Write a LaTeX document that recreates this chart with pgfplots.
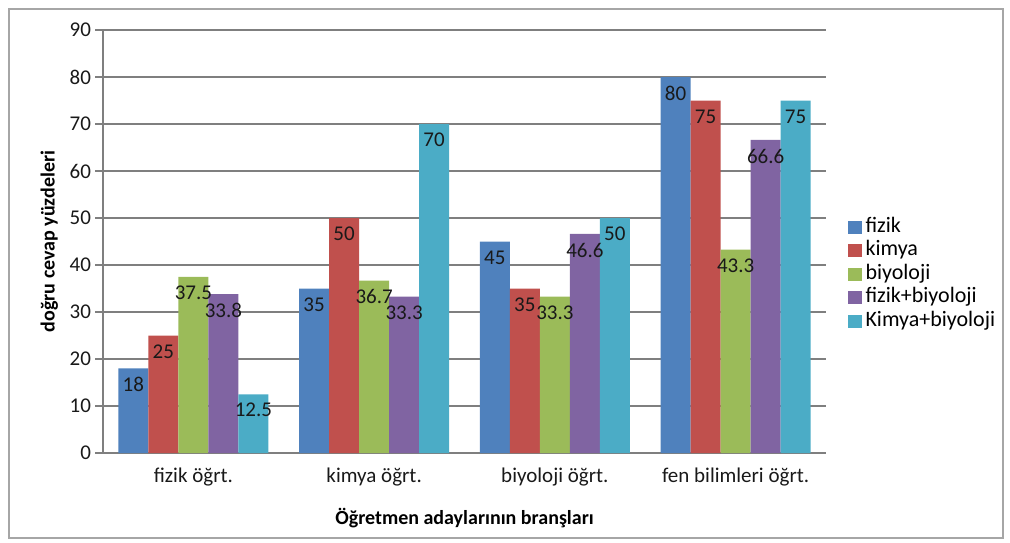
\documentclass[border=0pt]{standalone}
\usepackage{pgfplots}
\pgfplotsset{compat=1.18}
\usepackage{fontspec}
\setmainfont{Carlito}
\definecolor{cB}{HTML}{4F81BD}
\definecolor{cR}{HTML}{C0504D}
\definecolor{cG}{HTML}{9BBB59}
\definecolor{cP}{HTML}{8064A2}
\definecolor{cC}{HTML}{4BACC6}
\definecolor{gridc}{HTML}{7F7F7F}
\begin{document}
\begin{tikzpicture}
\useasboundingbox (0,0) rectangle (505pt,271pt);
\draw[gray!70, line width=1pt] (4.5pt,2pt) rectangle (501.5pt,266.5pt);
\begin{axis}[
  at={(51.5pt,44.5pt)}, anchor=south west,
  scale only axis, width=361.5pt, height=211.5pt,
  xmin=-0.5, xmax=3.5, ymin=0, ymax=90,
  ybar=0pt, bar width=15pt,
  axis x line=bottom, axis y line=left,
  axis line style={gridc, line width=1pt, -},
  xtick={0,1,2,3},
  xticklabels={fizik öğrt., kimya öğrt., biyoloji öğrt., fen bilimleri öğrt.},
  extra x ticks={0.5,1.5,2.5,3.5}, extra x tick labels={},
  extra x tick style={major tick length=4pt, tick style={gridc, line width=0.8pt}, grid=none},
  x tick style={draw=none},
  ytick={0,10,...,90},
  ymajorgrids, grid style={gridc, line width=1pt},
  y tick style={gridc, line width=1pt},
  major tick length=4pt,
  tick align=outside,
  tick label style={font=\fontsize{10.5}{12}\selectfont, text=black!90},
  yticklabel style={xshift=1.5pt},
  /pgf/number format/assume math mode=true,
  xlabel={\textbf{Öğretmen adaylarının branşları}},
  ylabel={\textbf{doğru cevap yüzdeleri}},
  label style={font=\fontsize{10}{12}\selectfont},
  xlabel style={yshift=4pt},
  ylabel style={yshift=-1pt},
  nodes near coords,
  nodes near coords style={anchor=north, font=\fontsize{10.5}{12}\selectfont, text=black!90, yshift=-1pt, /pgf/number format/assume math mode=true},
  point meta=explicit symbolic,
  legend style={at={(1.022,0.565)}, anchor=north west, draw=none, fill=none,
    font=\fontsize{11}{12}\selectfont, row sep=2.75pt,
    nodes={text height=7pt, text depth=2pt, inner ysep=0pt}},
  legend cell align=left,
  legend image code/.code={\fill[#1] (0pt,-3.2pt) rectangle (6.6pt,3.4pt);},
]
\addplot[fill=cB, draw=none] coordinates {(0,18)[18] (1,35)[35] (2,45)[45] (3,80)[80]};
\addplot[fill=cR, draw=none] coordinates {(0,25)[25] (1,50)[50] (2,35)[35] (3,75)[75]};
\addplot[fill=cG, draw=none] coordinates {(0,37.5)[37.5] (1,36.7)[36.7] (2,33.3)[33.3] (3,43.3)[43.3]};
\addplot[fill=cP, draw=none] coordinates {(0,33.8)[33.8] (1,33.3)[33.3] (2,46.6)[46.6] (3,66.6)[66.6]};
\addplot[fill=cC, draw=none] coordinates {(0,12.5)[12.5] (1,70)[70] (2,50)[50] (3,75)[75]};
\legend{fizik, kimya, biyoloji, fizik+biyoloji, Kimya+biyoloji}
\end{axis}
\end{tikzpicture}
\end{document}
